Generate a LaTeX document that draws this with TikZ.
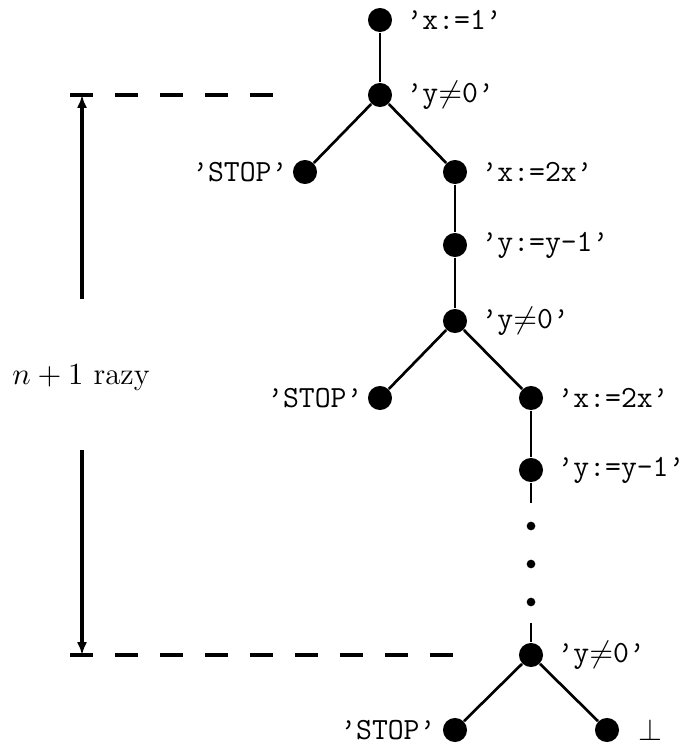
\documentclass[tikz,border=0pt]{standalone}
\usetikzlibrary{arrows.meta}
\begin{document}
\begin{tikzpicture}[x=0.35714pt, y=-0.35714pt,
  every node/.style={font=\fontsize{11}{13.5}\selectfont},
  bignode/.style={circle, fill=black, inner sep=0pt, minimum size=8.6pt},
  smalldot/.style={circle, fill=black, inner sep=0pt, minimum size=3.1pt},
  edge/.style={line width=0.95pt},
  rlab/.style={anchor=west, inner sep=0pt, font=\fontsize{11}{13.5}\selectfont\ttfamily},
  llab/.style={anchor=east, inner sep=0pt, font=\fontsize{11}{13.5}\selectfont\ttfamily},
  guide/.style={line width=1.15pt, dash pattern=on 8.2pt off 7.86pt},
  meas/.style={line width=1.3pt}]
\useasboundingbox (0,0) rectangle (688,747);
% nodes
\node[bignode] (n1) at (380,20) {};
\node[bignode] (n2) at (380,95) {};
\node[bignode] (s1) at (305,172) {};
\node[bignode] (n3) at (455,172) {};
\node[bignode] (n4) at (455,245) {};
\node[bignode] (n5) at (455,321) {};
\node[bignode] (s2) at (380,398) {};
\node[bignode] (n6) at (531,398) {};
\node[bignode] (n7) at (531,470) {};
\node[smalldot] (d1) at (531,526) {};
\node[smalldot] (d2) at (531,564) {};
\node[smalldot] (d3) at (531,602) {};
\node[bignode] (n8) at (531,655) {};
\node[bignode] (s3) at (455,730) {};
\node[bignode] (b) at (607,730) {};
\coordinate (t7) at (531,503);
\coordinate (t8) at (531,623);
% edges
\draw[edge] (n1) -- (n2);
\draw[edge] (n2) -- (s1);
\draw[edge] (n2) -- (n3);
\draw[edge] (n3) -- (n4);
\draw[edge] (n4) -- (n5);
\draw[edge] (n5) -- (s2);
\draw[edge] (n5) -- (n6);
\draw[edge] (n6) -- (n7);
\draw[edge] (n7) -- (t7);
\draw[edge] (t8) -- (n8);
\draw[edge] (n8) -- (s3);
\draw[edge] (n8) -- (b);
% labels
\node[rlab] (l1) at (406,20) {’x:=1’};
\node[rlab] (l2) at (406,95) {’y$\neq$0’};
\node[llab] (l3) at (288,172) {’STOP’};
\node[rlab] (l4) at (481,172) {’x:=2x’};
\node[rlab] (l5) at (481,245) {’y:=y-1’};
\node[rlab] (l6) at (481,321) {’y$\neq$0’};
\node[llab] (l7) at (363,398) {’STOP’};
\node[rlab] (l8) at (557,398) {’x:=2x’};
\node[rlab] (l9) at (557,470) {’y:=y-1’};
\node[rlab] (l10) at (557,655) {’y$\neq$0’};
\node[llab] (l11) at (436,730) {’STOP’};
\node[rlab] (l12) at (638,730) {$\perp$};
% guides
\coordinate (g1a) at (70,95);
\coordinate (g1b) at (277,95);
\coordinate (g2a) at (70,655);
\coordinate (g2b) at (458,655);
\draw[guide] (g1a) -- (g1b);
\draw[guide] (g2a) -- (g2b);
\node (lab) at (81,378) {$n+1$ razy};
\coordinate (a1s) at (82,299);
\coordinate (a1e) at (82,95);
\coordinate (a2s) at (82,450);
\coordinate (a2e) at (82,655);
\draw[meas, -{Latex[length=4.6pt,width=3.6pt]}] (a1s) -- (a1e);
\draw[meas, -{Latex[length=4.6pt,width=3.6pt]}] (a2s) -- (a2e);
\end{tikzpicture}
\end{document}
